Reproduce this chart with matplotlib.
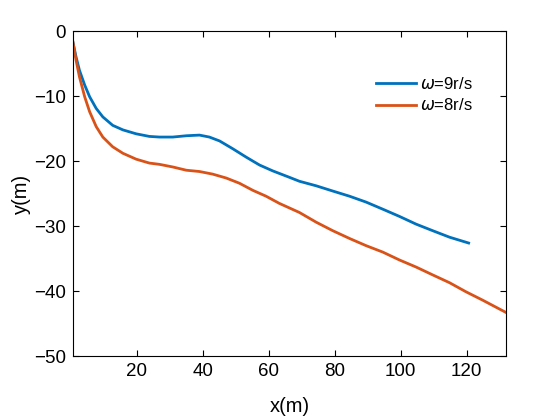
import numpy as np
import matplotlib
matplotlib.use('Agg')
import matplotlib.pyplot as plt

# trajectories
x9 = [0.6, 1.6, 2.6, 4.2, 5.7, 7.7, 9.7, 12.7, 15.8, 19.8, 23.8, 26.9, 30.9, 35.0, 39.0,
      42.0, 45.1, 49.1, 53.2, 57.2, 61.2, 66.3, 69.3, 74.4, 79.4, 84.5, 89.5, 94.6,
      99.6, 104.7, 109.7, 114.8, 120.6]
y9 = [-1.6, -4.0, -6.0, -8.3, -10.1, -11.9, -13.2, -14.5, -15.2, -15.8, -16.2, -16.3, -16.3, -16.1, -16.0,
      -16.3, -16.9, -18.1, -19.4, -20.6, -21.5, -22.5, -23.1, -23.8, -24.6, -25.4, -26.3, -27.4,
      -28.5, -29.7, -30.7, -31.7, -32.6]

x8 = [0.6, 1.6, 2.6, 4.2, 5.7, 7.7, 9.7, 12.7, 15.8, 19.8, 23.8, 26.9, 30.9, 35.0, 39.0,
      43.0, 47.1, 51.1, 55.2, 59.2, 63.2, 69.3, 74.4, 79.4, 84.5, 89.5, 94.6, 99.6,
      104.7, 109.7, 114.8, 119.8, 124.9, 132.0]
y8 = [-1.6, -4.5, -7.0, -10.1, -12.4, -14.7, -16.3, -17.8, -18.8, -19.7, -20.3, -20.5, -20.9, -21.4, -21.6,
      -22.0, -22.6, -23.4, -24.5, -25.4, -26.5, -27.9, -29.4, -30.7, -31.9, -33.0, -34.0, -35.2,
      -36.3, -37.5, -38.7, -40.1, -41.4, -43.3]

labels = [r'$\omega$=9r/s', r'$\omega$=8r/s']

plt.rcParams['font.family'] = ['Liberation Sans', 'DejaVu Sans']

fig = plt.figure(figsize=(5.6, 4.2), dpi=100)
ax = fig.add_axes([0.130, 0.152, 0.774, 0.774])

ax.plot(x9, y9, color='#0072BD', lw=2, label=labels[0])
ax.plot(x8, y8, color='#D95319', lw=2, label=labels[1])

ax.set_xlim(0.6, 132)
ax.set_ylim(-50, 0)
ax.set_xticks([20, 40, 60, 80, 100, 120])
ax.set_yticks([-50, -40, -30, -20, -10, 0])
ax.tick_params(direction='in', top=True, right=True, labelsize=13.5, length=4, width=0.8, pad=5)
for s in ax.spines.values():
    s.set_linewidth(0.8)

ax.set_xlabel('x(m)', fontsize=14.5, labelpad=12)
ax.set_ylabel('y(m)', fontsize=14.5, labelpad=2)

ax.legend(loc='center left', bbox_to_anchor=(0.70, 0.805), frameon=False, fontsize=12,
          handlelength=2.4, handletextpad=0.2, borderpad=0, borderaxespad=0, labelspacing=0.35)

fig.savefig('out.png', dpi=100)
